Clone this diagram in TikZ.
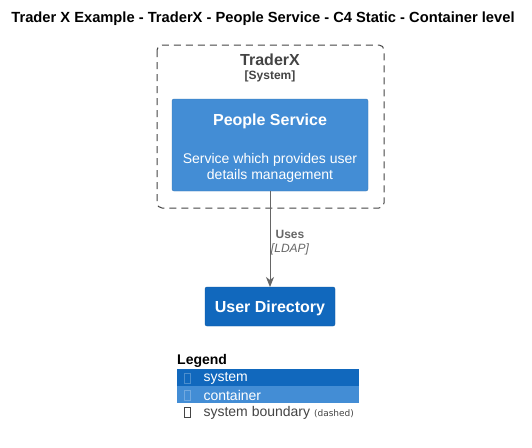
\documentclass[tikz,border=0pt]{standalone}
\usepackage{fontspec}
\setmainfont{Liberation Sans}
\newfontfamily\notefont{DejaVu Sans}
\usetikzlibrary{arrows.meta}
\definecolor{sysblue}{HTML}{1168BD}
\definecolor{contblue}{HTML}{438DD5}
\definecolor{bndtext}{HTML}{444444}
\definecolor{relgray}{HTML}{666666}
\tikzset{
  container/.style={fill=contblue, draw=contblue!85!black, line width=0.4pt, rounded corners=2pt},
  extsystem/.style={fill=sysblue, draw=sysblue!85!black, line width=0.4pt, rounded corners=2pt},
  boundary/.style={draw=bndtext, dash pattern=on 7pt off 5pt, line width=1pt, rounded corners=5pt},
  boxtitle/.style={text=white, font=\fontsize{16}{19}\selectfont\bfseries, anchor=center},
  boxdesc/.style={text=white, font=\fontsize{14}{16}\selectfont, align=center, anchor=center},
  rel/.style={draw=relgray, line width=1pt, -{Stealth[length=10pt,width=8pt,inset=3pt]}},
  rellabel/.style={text=relgray, font=\fontsize{12}{14}\selectfont, anchor=center},
  legendrow/.style={minimum width=182pt, minimum height=17pt, inner sep=0pt, anchor=north west},
  legendtext/.style={font=\fontsize{14}{16}\selectfont, anchor=west},
  tofu/.style={line width=0.6pt, minimum width=6pt, minimum height=10pt, inner sep=0pt}
}
\begin{document}
\begin{tikzpicture}[x=1pt,y=-1pt]
\useasboundingbox[fill=white] (0,0) rectangle (532,447);

% diagram title
\node[font=\fontsize{14.7}{17}\selectfont\bfseries, anchor=center] (title) at (263,19)
  {Trader X Example - TraderX - People Service - C4 Static - Container level};

% system boundary
\draw[boundary] (157,45) rectangle (384,208);
\node[text=bndtext, font=\fontsize{16}{19}\selectfont\bfseries] (bndname) at (270,60) {TraderX};
\node[text=bndtext, font=\fontsize{12}{14}\selectfont\bfseries] (bndtype) at (270,76) {[System]};

% container
\path[container] (172,99) rectangle (368,191);
\node[boxtitle] (ps) at (270,121.5) {People Service};
\node[boxdesc] (psdesc) at (270,167.5) {Service which provides user\\details management};
\coordinate (psbottom) at (270,191);

% external system
\path[extsystem] (205,287) rectangle (335,326);
\node[boxtitle] (ud) at (270,308.5) {User Directory};
\coordinate (udtop) at (270,287);

% relation
\draw[rel] (psbottom) -- (udtop);
\node[rellabel, font=\fontsize{12}{14}\selectfont\bfseries] (uses) at (290,234.5) {Uses};
\node[rellabel, font=\fontsize{12}{14}\selectfont\itshape] (ldap) at (290,249) {[LDAP]};

% legend
\node[font=\fontsize{14}{16}\selectfont\bfseries, anchor=west, inner sep=0pt] (legend) at (177,361) {Legend};
\node[legendrow, fill=sysblue] (lsys) at (177,369) {};
\node[legendrow, fill=contblue] (lcont) at (177,386) {};
\node[legendrow] (lbnd) at (177,403) {};
\node[tofu, draw=white!25!sysblue] (tsys) at (187,378) {};
\node[tofu, draw=white!25!contblue] (tcont) at (187,395) {};
\node[tofu, draw=bndtext] (tbnd) at (187,412) {};
\node[legendtext, text=white] (ltsys) at (200,378.5) {system};
\node[legendtext, text=white] (ltcont) at (200,395.5) {container};
\node[legendtext, text=bndtext] (ltbnd) at (200,412.5) {system boundary {\notefont\fontsize{9}{10}\selectfont(dashed)}};
\end{tikzpicture}
\end{document}
